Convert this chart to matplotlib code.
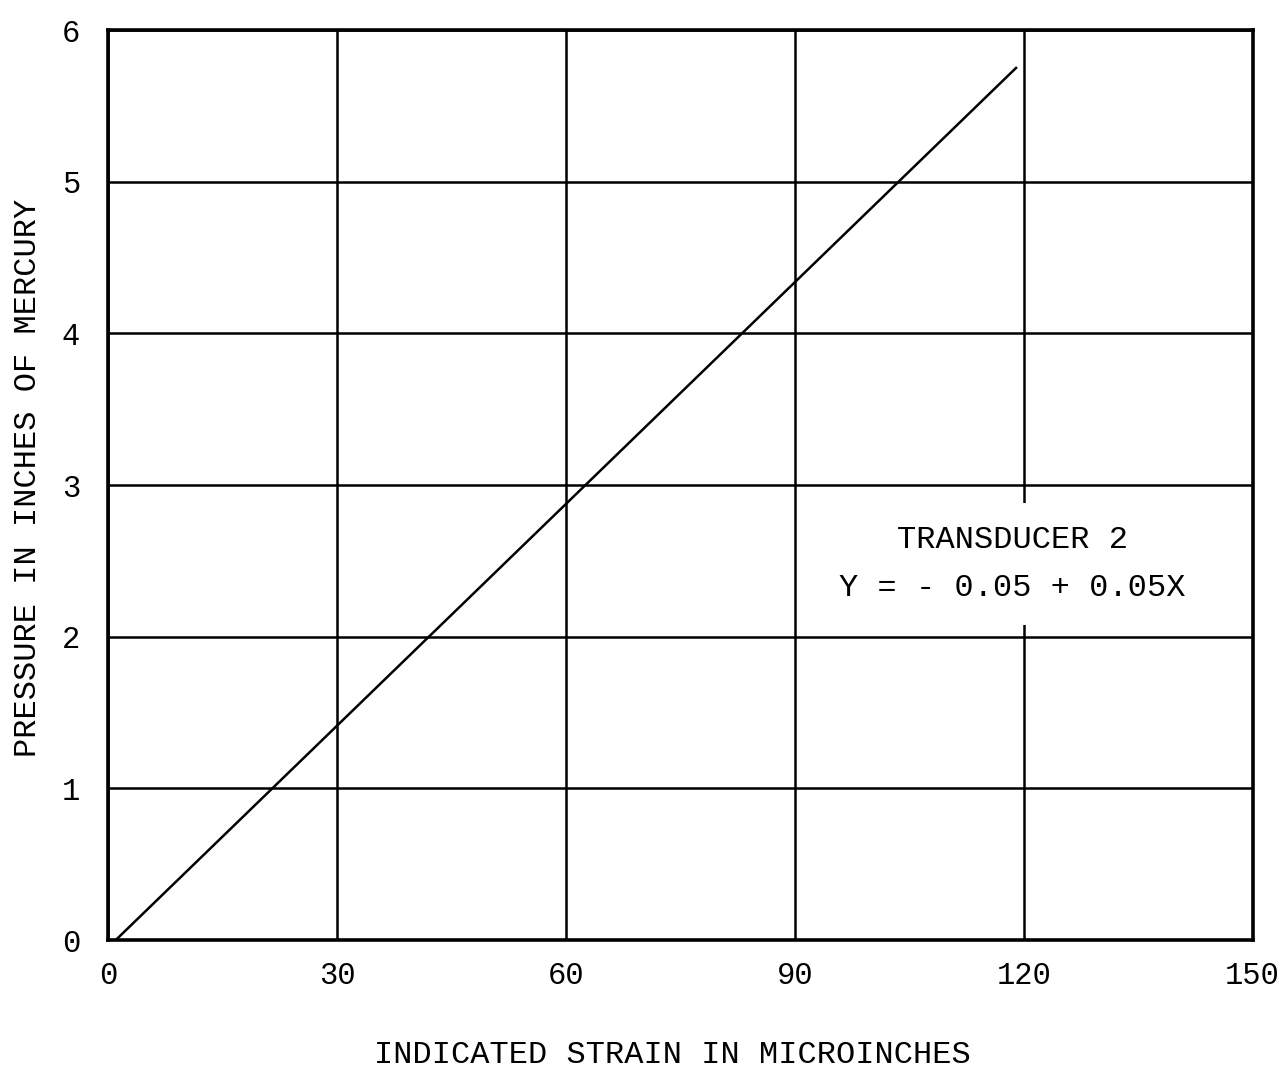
import matplotlib.pyplot as plt

# --- datos ---
deformacion = [1, 119]          # microinches
presion = [0.0, 5.75]           # pulgadas de mercurio
x_ticks = [0, 30, 60, 90, 120, 150]
y_ticks = [0, 1, 2, 3, 4, 5, 6]
etiqueta_x = "INDICATED STRAIN IN MICROINCHES"
etiqueta_y = "PRESSURE IN INCHES OF MERCURY"
nota = "TRANSDUCER 2\nY = - 0.05 + 0.05X"

fuente_texto = "Liberation Mono"

fig = plt.figure(figsize=(12.86, 10.72), dpi=100)
ax = fig.add_axes([0.084, 0.123, 0.890, 0.849])

ax.plot(deformacion, presion, color="black", lw=1.8, zorder=3)

ax.set_xlim(0, 150)
ax.set_ylim(0, 6)
ax.set_xticks(x_ticks)
ax.set_yticks(y_ticks)
ax.grid(True, color="black", lw=1.8)
ax.set_axisbelow(True)
for s in ax.spines.values():
    s.set_linewidth(2.6)

ax.tick_params(length=0, labelsize=22)
ax.tick_params(axis="x", pad=15)
ax.tick_params(axis="y", pad=20)
for t in ax.get_xticklabels() + ax.get_yticklabels():
    t.set_fontfamily(fuente_texto)

# etiquetas de ejes colocadas en la figura
fig.text(672 / 1286, 1 - 1055 / 1072, etiqueta_x, ha="center", va="center",
         fontsize=23, family=fuente_texto)
fig.text(28 / 1286, 1 - 478 / 1072, etiqueta_y, ha="center", va="center",
         rotation=90, fontsize=23, family=fuente_texto)

# nota con fondo blanco que corta la linea de la rejilla
ax.text(118.5, 2.48, nota, ha="center", va="center", fontsize=23,
        family=fuente_texto, linespacing=1.75, zorder=4,
        bbox=dict(facecolor="white", edgecolor="none", pad=16))

fig.savefig("out.png", dpi=100, facecolor="white")
